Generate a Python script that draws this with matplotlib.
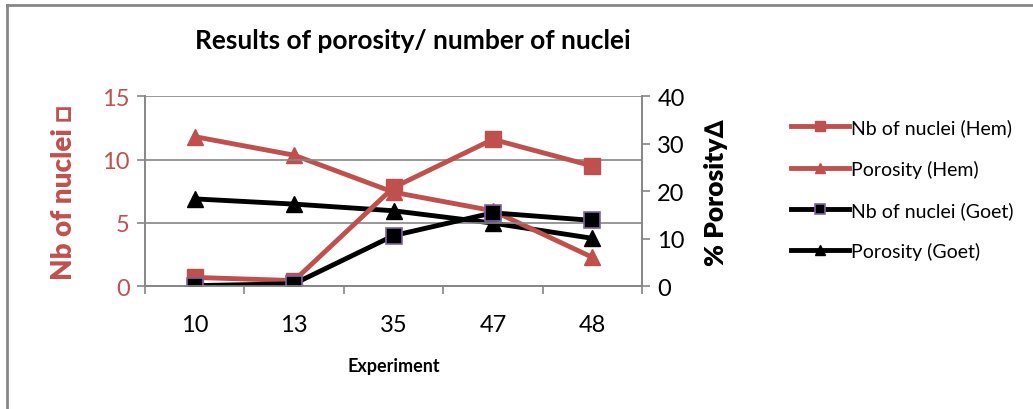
import matplotlib
matplotlib.use("Agg")
import matplotlib.pyplot as plt
from matplotlib.lines import Line2D

# data
experiments = ["10", "13", "35", "47", "48"]
nuclei_hem = [0.7, 0.45, 7.8, 11.6, 9.5]
porosity_hem = [31.5, 27.6, 19.8, 15.9, 6.1]
nuclei_goet = [0.05, 0.2, 4.0, 5.8, 5.2]
porosity_goet = [18.4, 17.3, 15.9, 13.3, 10.1]

RED = "#C0504D"
GRAY = "#868686"
PURPLE = "#8064A2"
FONT = ["Lato", "DejaVu Sans"]
plt.rcParams["font.family"] = FONT

fig = plt.figure(figsize=(10.33, 4.10), dpi=100)
ax = fig.add_axes([0.1404, 0.2993, 0.4811, 0.4634])
ax2 = ax.twinx()
ax.set_zorder(ax2.get_zorder() + 1)
ax.patch.set_visible(False)

x = list(range(len(experiments)))

l3, = ax2.plot(x, porosity_goet, color="black", lw=3.5, marker="^", ms=12,
               mfc="black", mec="black", label="Porosity (Goet)")
l2, = ax2.plot(x, porosity_hem, color=RED, lw=3.5, marker="^", ms=12,
               mfc=RED, mec=RED, label="Porosity (Hem)")
l1, = ax.plot(x, nuclei_hem, color=RED, lw=3.5, marker="s", ms=11.5,
              mfc=RED, mec=RED, label="Nb of nuclei (Hem)")
l4, = ax.plot(x, nuclei_goet, color="black", lw=3.5, marker="s", ms=11.5,
              mfc="black", mec=PURPLE, mew=1.2, label="Nb of nuclei (Goet)")

ax.set_xlim(-0.5, len(experiments) - 0.5)
ax.set_ylim(0, 15)
ax2.set_ylim(0, 40)
ax.set_yticks([0, 5, 10, 15])
ax2.set_yticks([0, 10, 20, 30, 40])
ax.set_xticks(x)
ax.set_xticklabels(experiments)
ax.set_xticks([i - 0.5 for i in range(len(experiments) + 1)], minor=True)

ax.grid(axis="y", color=GRAY, lw=1.2)
ax.set_axisbelow(True)

for a in (ax, ax2):
    for s in a.spines.values():
        s.set_color(GRAY)
        s.set_linewidth(1.2)
    a.spines["top"].set_visible(False)

ax.tick_params(axis="x", which="major", length=0, labelsize=17, pad=20)
ax.tick_params(axis="x", which="minor", length=6, color=GRAY, width=1.2)
ax.tick_params(axis="y", length=6, color=GRAY, width=1.2, labelsize=17,
               labelcolor=RED, pad=5)
ax2.tick_params(axis="y", length=6, color=GRAY, width=1.2, labelsize=17,
                labelcolor="black", pad=5)

ax.set_ylabel("Nb of nuclei \u25a1", color=RED, fontsize=20, fontweight="heavy",
              labelpad=18)
ax2.set_ylabel("% Porosity\u2206", color="black", fontsize=19, fontweight="heavy",
               labelpad=14)
ax.set_xlabel("Experiment", fontsize=13, fontweight="bold", labelpad=16)

fig.text(0.400, 0.900, "Results of porosity/ number of nuclei", ha="center",
         va="center", fontsize=19, fontweight="bold")

fig.legend(handles=[l1, l2, l4, l3], loc="upper left",
           bbox_to_anchor=(0.758, 0.728), frameon=False, fontsize=14,
           handlelength=3.0, handletextpad=0.1, labelspacing=1.2,
           markerscale=0.6, borderaxespad=0.0)

# chart frame
fig.add_artist(Line2D([0.007, 0.007], [0.0, 0.985], color=GRAY, lw=2,
                      transform=fig.transFigure))
fig.add_artist(Line2D([0.007, 1.0], [0.985, 0.985], color=GRAY, lw=2,
                      transform=fig.transFigure))

fig.savefig("out.png", dpi=100)
